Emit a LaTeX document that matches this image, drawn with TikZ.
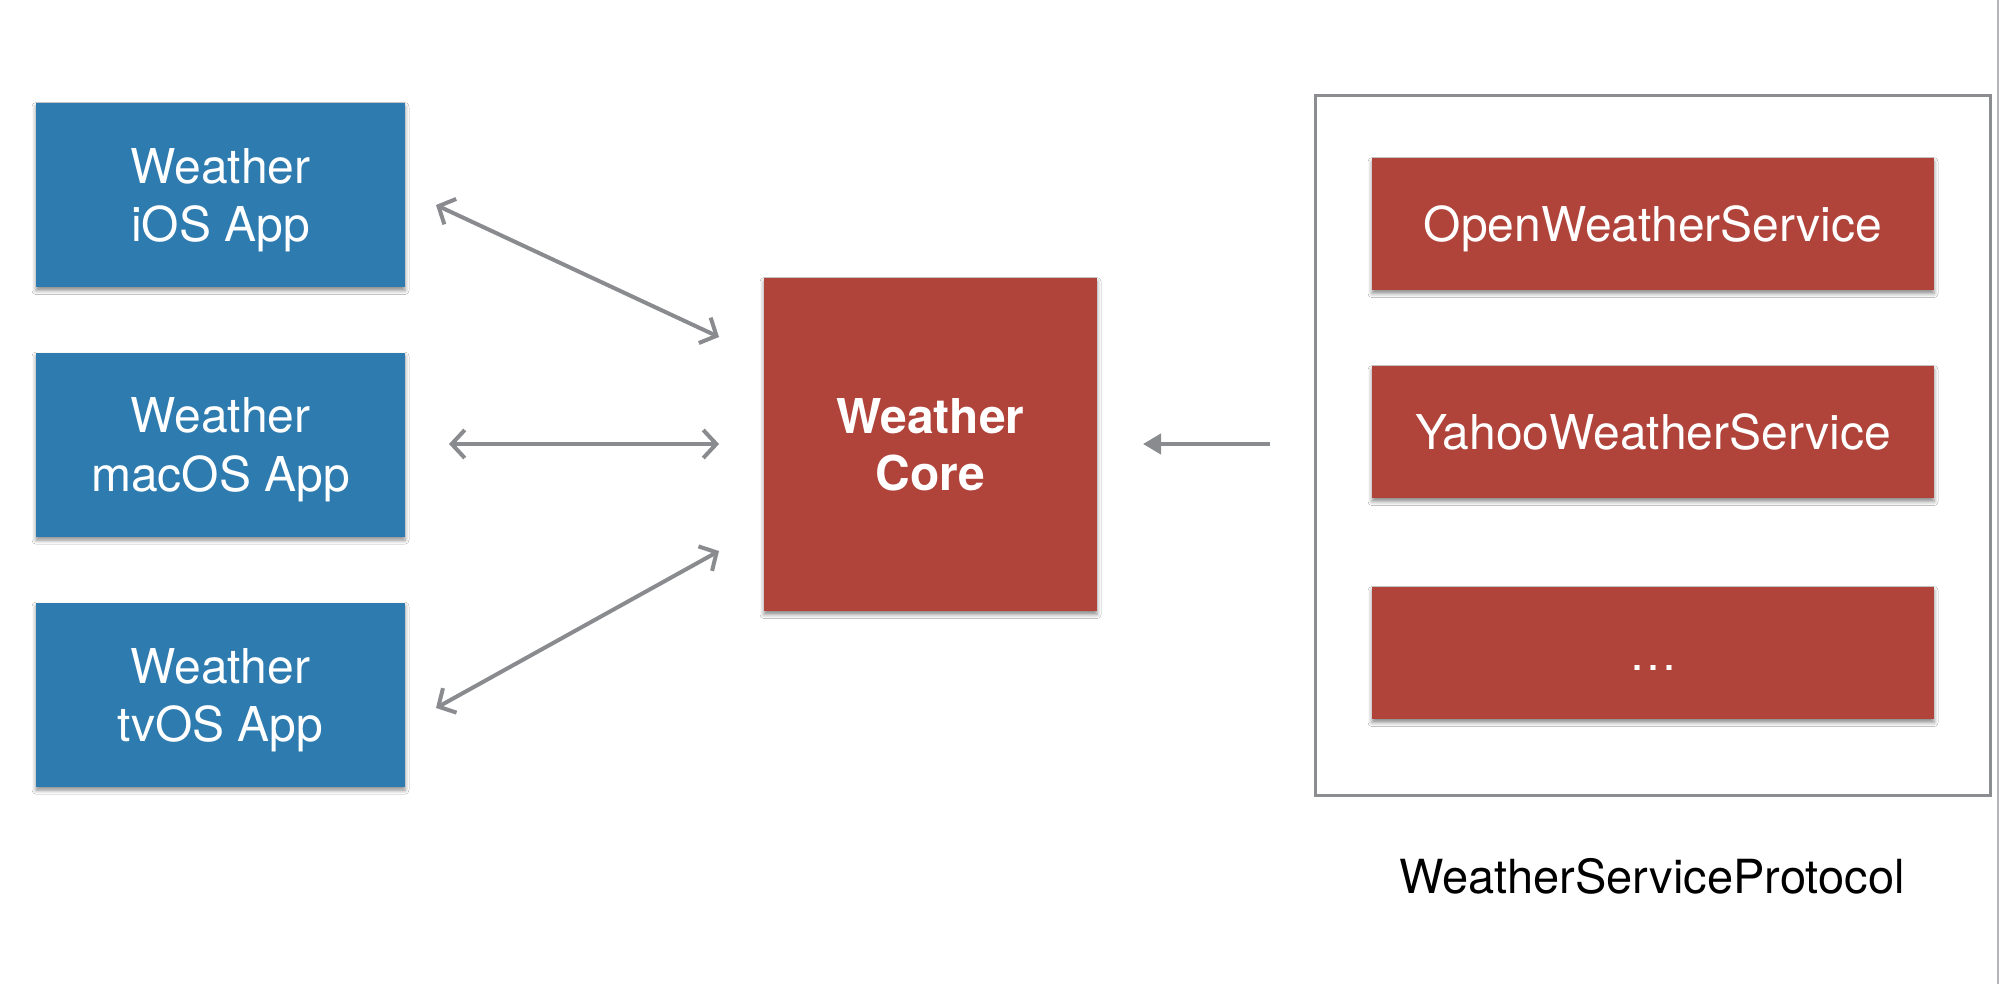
\documentclass[tikz,border=0pt]{standalone}
\usepackage{fontspec}
\setmainfont{TeX Gyre Heros}
\usetikzlibrary{arrows.meta,shadows.blur}
\definecolor{appblue}{HTML}{2E7BB0}
\definecolor{corered}{HTML}{B0433A}
\definecolor{arrgray}{HTML}{8A8B8F}
\definecolor{framegray}{HTML}{8C8D91}
\definecolor{edgegray}{HTML}{B4B5B8}
\begin{document}
\begin{tikzpicture}[x=0.5pt,y=-0.5pt,
  box/.style={rectangle, inner sep=0pt, text=white, align=center, text depth=0pt,
    blur shadow={shadow xshift=0pt, shadow yshift=-1.8pt, shadow blur radius=2pt, shadow opacity=45}},
  appbox/.style={box, fill=appblue, minimum width=184.5pt, minimum height=92pt,
    font=\fontsize{24}{29}\selectfont},
  corebox/.style={box, fill=corered, minimum width=166.5pt, minimum height=166.5pt,
    font=\fontsize{24}{28.5}\selectfont\bfseries},
  svcbox/.style={box, fill=corered, minimum width=281pt, minimum height=66pt,
    font=\fontsize{24}{29}\selectfont},
  framebox/.style={draw=framegray, line width=1.5pt, rectangle, inner sep=0pt},
  biarr/.style={draw=arrgray, line width=2pt,
    {Straight Barb[length=6.5pt,width=14pt]}-{Straight Barb[length=6.5pt,width=14pt]}},
  onearr/.style={draw=arrgray, line width=2pt, -{Triangle[length=9pt,width=10pt]}},
  lbl/.style={font=\fontsize{23.5}{28}\selectfont, text=black, inner sep=0pt}
]
\fill[white] (0,0) rectangle (2000,984);
\useasboundingbox (0,0) rectangle (2000,984);
\draw[edgegray, line width=1pt] (1998,0) -- (1998,984);

% frame
\node[framebox, minimum width=337.5pt, minimum height=349.5pt] (frame) at (1652.5,445.5) {};

% app boxes
\node[appbox] (ios) at (220.5,195) {Weather\\iOS App};
\node[appbox] (mac) at (220.5,444.5) {Weather\\macOS App};
\node[appbox] (tv) at (220.5,694.5) {Weather\\tvOS App};

% core
\node[corebox] (core) at (930.5,444.5) {Weather\\Core};

% services
\node[svcbox] (open) at (1653,224) {OpenWeatherService};
\node[svcbox] (yahoo) at (1653,432) {YahooWeatherService};
\node[svcbox, text height=17pt] (more) at (1653,653) {\ldots};

\node[lbl, anchor=base] (proto) at (1652,893) {WeatherServiceProtocol};

% connector end points
\coordinate (a1s) at (436,205);
\coordinate (a1e) at (719,337);
\coordinate (a2s) at (449,444);
\coordinate (a2e) at (719,444);
\coordinate (a3s) at (436,708);
\coordinate (a3e) at (719,551);
\coordinate (a4s) at (1270,444);
\coordinate (a4e) at (1143,444);

\draw[biarr] (a1s) -- (a1e);
\draw[biarr] (a2s) -- (a2e);
\draw[biarr] (a3s) -- (a3e);
\draw[onearr] (a4s) -- (a4e);
\end{tikzpicture}
\end{document}
